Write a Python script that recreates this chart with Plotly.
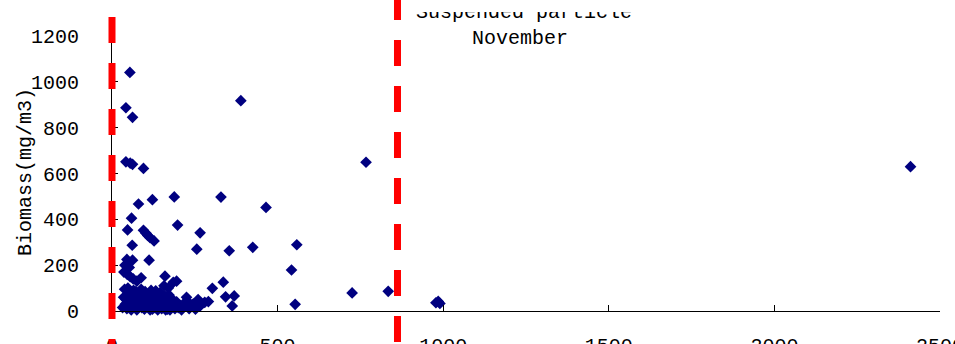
import plotly.graph_objects as go

# ---- data ----
suspended_particle = [
    54, 42, 62, 389, 767, 2411, 42, 55, 62, 95,
    80, 122, 188, 329, 465, 59, 198, 266, 47, 95, 102, 108, 115, 127, 61, 256, 354, 425, 558,
    112, 45, 62, 542, 39, 52, 36, 46, 55, 64, 75, 88, 160, 195, 157, 170, 185, 336, 303, 343,
    369, 363, 291, 266, 225, 236, 553, 725, 834, 978, 985, 990, 175, 205, 233, 280,
    35, 40, 45, 50, 55, 60, 65, 70, 75, 80, 85, 90, 95, 100, 105, 110, 115, 120, 125, 130,
    135, 140, 145, 150, 155, 160, 165, 170, 175, 180, 185, 190, 195, 200, 210, 215, 38, 48,
    58, 68, 78, 88, 98, 108, 118, 128, 138, 148, 158, 168, 178, 245, 252, 260, 230, 32, 42,
    52, 62, 72, 82, 92, 102, 112, 122, 132, 142, 152, 162, 172, 182,
]
biomass = [
    1041, 887, 845, 918, 649, 630, 651, 645, 640, 622,
    467, 486, 498, 497, 452, 405, 375, 341, 354, 352, 340, 330, 320, 306, 287, 270, 263, 278, 289,
    222, 225, 222, 179, 200, 190, 170, 160, 150, 140, 130, 145, 152, 130, 110, 100, 125, 126, 99, 62,
    66, 22, 41, 22, 60, 19, 29, 79, 86, 36, 42, 33, 47, 25, 10, 38,
    60, 30, 10, 75, 45, 20, 90, 55, 5, 35, 70, 15, 50, 85, 25, 60, 5, 40, 75, 15,
    55, 30, 80, 10, 45, 65, 20, 35, 5, 55, 25, 10, 40, 15, 5, 30, 95, 100,
    5, 30, 60, 95, 8, 40, 90, 35, 5, 60, 30, 8, 20, 30, 8, 50, 40, 15, 50,
    25, 65, 85, 18, 38, 62, 18, 8, 88, 48, 22, 5, 70, 40,
]
divider_x = [0, 862]
x_ticks = [0, 500, 1000, 1500, 2000, 2500]
y_ticks = [0, 200, 400, 600, 800, 1000, 1200]
title_top = "Suspended particle"
title_sub = "November"
y_title = "Biomass(mg/m3)"

# ---- layout geometry (pixels) ----
W, H = 955, 344
L, R, T, B = 112, 15, 36, 33
PW, PH = W - L - R, H - T - B
XR = [0, 2500]
YR = [0, 1200]
FONT = "Liberation Mono, DejaVu Sans Mono, monospace"


def py2paper(py):
    return (H - B - py) / PH


def px2paper(px):
    return (px - L) / PW


def x2paper(v):
    return (v - XR[0]) / (XR[1] - XR[0])


fig = go.Figure()
fig.add_trace(go.Scatter(
    x=suspended_particle, y=biomass, mode="markers",
    marker=dict(symbol="diamond", size=9, color="#000080", line=dict(width=0)),
    cliponaxis=False, showlegend=False, hoverinfo="skip",
))

# red dashed dividers
starts = [17, -6]
for xv, st in zip(divider_x, starts):
    xp = x2paper(xv)
    fig.add_shape(type="line", xref="paper", yref="paper",
                  x0=xp, x1=xp, y0=py2paper(st), y1=py2paper(H + 10),
                  line=dict(color="#FF0000", width=7, dash="26px,20px"),
                  layer="above")

# top title, its upper part hidden by a white mask (as in the cropped source)
fig.add_annotation(text=title_top, xref="paper", yref="paper",
                   x=px2paper(524), y=py2paper(13), xanchor="center", yanchor="middle",
                   showarrow=False, font=dict(family=FONT, size=20, color="black"))
fig.add_annotation(text=" ", xref="paper", yref="paper",
                   x=px2paper(405), y=py2paper(-4), xanchor="left", yanchor="top",
                   width=245, height=16, bgcolor="white", borderpad=0, borderwidth=0,
                   showarrow=False, font=dict(family=FONT, size=8, color="white"))

fig.add_annotation(text=title_sub, xref="paper", yref="paper",
                   x=px2paper(520), y=py2paper(39), xanchor="center", yanchor="middle",
                   showarrow=False, font=dict(family=FONT, size=20, color="black"))
fig.add_annotation(text=y_title, xref="paper", yref="paper",
                   x=px2paper(25), y=py2paper(172), xanchor="center", yanchor="middle",
                   showarrow=False, textangle=-90,
                   font=dict(family=FONT, size=20, color="black"))

fig.update_layout(
    width=W, height=H,
    margin=dict(l=L, r=R, t=T, b=B, autoexpand=False),
    paper_bgcolor="white", plot_bgcolor="white",
    font=dict(family=FONT, size=20, color="black"),
    xaxis=dict(range=XR, tickvals=x_ticks, ticktext=[str(v) for v in x_ticks],
               ticks="inside", ticklen=6, tickcolor="black", tickwidth=1,
               showline=True, linecolor="black", linewidth=1,
               showgrid=False, zeroline=False, ticklabelstandoff=16,
               ticklabeloverflow="allow",
               tickfont=dict(family=FONT, size=20, color="black")),
    yaxis=dict(range=YR, tickvals=y_ticks, ticktext=[str(v) for v in y_ticks],
               ticks="inside", ticklen=6, tickcolor="black", tickwidth=1,
               showline=True, linecolor="black", linewidth=1,
               showgrid=False, zeroline=False, ticklabelstandoff=28,
               tickfont=dict(family=FONT, size=20, color="black")),
)

fig.write_html("out.html")
